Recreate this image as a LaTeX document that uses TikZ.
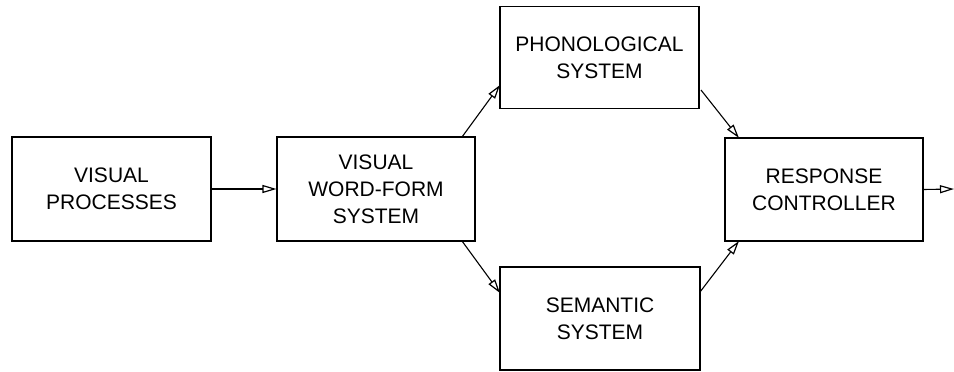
\documentclass[tikz,border=0pt]{standalone}
\usepackage{fontspec}
\setmainfont{Liberation Sans}
\usetikzlibrary{arrows.meta}
\begin{document}
\begin{tikzpicture}[x=1pt,y=1pt,
  box/.style={draw, line width=1.1pt, inner sep=0pt, align=center,
    font=\fontsize{21}{27}\selectfont},
  conn/.style={line width=1.1pt, -{Triangle[open, length=14pt, width=8pt, line width=1.2pt]}}]
\useasboundingbox (0,0) rectangle (954,-372);
\node[box, minimum width=199pt, minimum height=104pt] (vp) at (111.5,-189) {VISUAL\\PROCESSES};
\node[box, minimum width=198pt, minimum height=104pt] (vwf) at (376,-189) {VISUAL\\WORD-FORM\\SYSTEM};
\node[box, minimum width=199pt, minimum height=102pt] (ph) at (599.5,-57.5) {PHONOLOGICAL\\SYSTEM};
\node[box, minimum width=200pt, minimum height=103pt] (se) at (600,-318.5) {SEMANTIC\\SYSTEM};
\node[box, minimum width=198pt, minimum height=103pt] (rc) at (824,-189.5) {RESPONSE\\CONTROLLER};
\coordinate (out) at (954,-189);
\coordinate (a1) at (462,-137);
\coordinate (a2) at (500,-85);
\coordinate (b1) at (701,-90);
\coordinate (b2) at (739,-138);
\coordinate (c1) at (462,-241);
\coordinate (c2) at (500,-293);
\coordinate (d1) at (700,-292);
\coordinate (d2) at (739,-241);
\draw[conn] (vp.east) -- (vwf.west);
\draw[conn] (a1) -- (a2);
\draw[conn] (b1) -- (b2);
\draw[conn] (c1) -- (c2);
\draw[conn] (d1) -- (d2);
\draw[conn] (rc.east) -- (out);
\end{tikzpicture}
\end{document}
